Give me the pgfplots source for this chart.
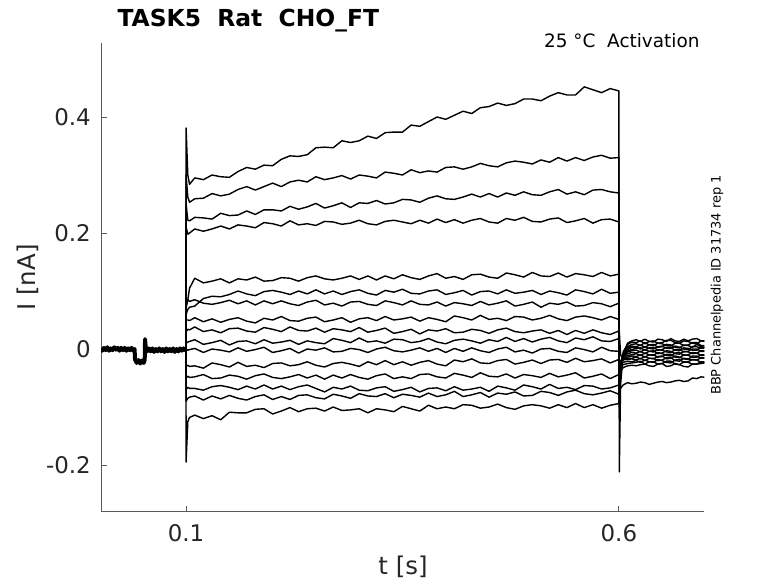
\documentclass[border=0pt]{standalone}
\usepackage{pgfplots}
\usepackage{pgfplotstable}
\pgfplotsset{compat=1.18}
\usepackage{fontspec}
\setmainfont{DejaVu Sans}
\definecolor{axisgray}{HTML}{5A5A5A}
\definecolor{lblgray}{HTML}{262626}

\pgfplotstableread{
t b
0.0015 0.001
0.003 -0.003
0.005 0.002
0.007 -0.002
0.009 0.003
0.011 -0.003
0.013 0.001
0.015 -0.002
0.017 0.003
0.019 -0.001
0.021 0.002
0.023 -0.003
0.025 0.002
0.027 -0.002
0.029 0.002
0.031 -0.003
0.033 0.001
0.035 -0.002
0.037 0.002
0.039 -0.003
0.0405 0.000
0.041 -0.018
0.043 -0.024
0.045 -0.019
0.047 -0.025
0.049 -0.020
0.051 -0.024
0.0522 -0.019
0.0526 0.017
0.0535 0.000
0.055 -0.004
0.057 0.001
0.059 -0.004
0.061 0.001
0.063 -0.005
0.065 0.000
0.067 -0.004
0.069 0.001
0.071 -0.004
0.073 0.000
0.075 -0.005
0.077 0.001
0.079 -0.004
0.081 0.000
0.083 -0.004
0.085 0.001
0.087 -0.005
0.089 0.000
0.091 -0.004
0.093 0.001
0.095 -0.003
0.097 0.001
0.099 -0.002
0.100 0.000
}\base

\pgfplotstableread{
t T1 T2 T3 T4 L1 L2 L3 L4 L5 L6 L7 L8 L9 L10 L11 L12
0.0999 0 0 0 0 0 0 0 0 0 0 0 0 0 0 0 0
0.100 .381 .300 .250 .210 .080 .060 .070 .050 .030 .010 .000 -.030 -.050 -.070 -.090 -.195
0.102 .300 .262 .222 .198 .085 .068 .085 .050 .034 .012 -.002 -.028 -.047 -.066 -.085 -.125
0.104 .284 .253 .221 .200 .105 .072 .082 .049 .033 .013 -.001 -.030 -.049 -.068 -.083 -.118
0.11 .295 .259 .227 .207 .122 .074 .085 .054 .038 .016 .001 -.029 -.048 -.068 -.081 -.114
0.12 .292 .260 .226 .203 .114 .087 .079 .047 .030 .008 -.006 -.033 -.044 -.071 -.088 -.120
0.13 .300 .268 .224 .207 .117 .091 .077 .052 .033 .011 .000 -.024 -.051 -.065 -.081 -.115
0.14 .297 .264 .234 .212 .121 .090 .080 .046 .028 .015 -.002 -.027 -.050 -.063 -.086 -.122
0.15 .296 .267 .230 .207 .114 .094 .084 .051 .035 .007 -.005 -.031 -.045 -.066 -.080 -.109
0.16 .306 .275 .231 .214 .121 .100 .078 .054 .036 .013 .002 -.023 -.047 -.070 -.085 -.110
0.17 .313 .280 .238 .212 .119 .095 .083 .048 .031 .014 -.004 -.030 -.052 -.064 -.088 -.110
0.18 .310 .274 .232 .209 .124 .092 .076 .045 .029 .009 -.001 -.028 -.046 -.069 -.082 -.104
0.19 .317 .280 .240 .218 .117 .099 .083 .053 .037 .016 .003 -.032 -.043 -.062 -.079 -.103
0.20 .316 .286 .240 .216 .118 .101 .078 .050 .034 .010 -.006 -.025 -.049 -.069 -.087 -.112
0.21 .327 .280 .238 .212 .123 .098 .083 .056 .030 .012 -.003 -.024 -.051 -.064 -.082 -.107
0.22 .333 .288 .246 .221 .122 .094 .078 .049 .038 .015 .001 -.029 -.048 -.070 -.087 -.101
0.23 .332 .291 .241 .214 .117 .100 .075 .048 .032 .008 -.007 -.027 -.044 -.065 -.080 -.108
0.24 .335 .288 .245 .216 .123 .095 .081 .053 .031 .014 .000 -.022 -.050 -.062 -.079 -.103
0.25 .347 .297 .251 .213 .126 .102 .084 .055 .036 .011 -.002 -.028 -.045 -.068 -.084 -.102
0.26 .348 .292 .243 .220 .121 .095 .076 .047 .029 .009 .002 -.031 -.052 -.074 -.086 -.107
0.27 .347 .295 .247 .219 .119 .100 .079 .050 .035 .018 -.005 -.025 -.045 -.066 -.078 -.100
0.28 .359 .299 .252 .215 .122 .094 .074 .054 .033 .015 -.004 -.023 -.050 -.069 -.081 -.106
0.29 .356 .293 .244 .217 .126 .099 .081 .046 .030 .011 .001 -.026 -.044 -.064 -.085 -.105
0.30 .359 .300 .252 .222 .120 .102 .082 .052 .037 .019 -.001 -.030 -.049 -.071 -.077 -.103
0.31 .367 .298 .251 .216 .126 .096 .077 .054 .029 .012 -.006 -.022 -.052 -.072 -.081 -.110
0.32 .363 .295 .256 .214 .119 .093 .075 .049 .032 .014 .000 -.027 -.046 -.067 -.082 -.103
0.33 .373 .305 .250 .220 .126 .101 .083 .056 .036 .010 .003 -.020 -.043 -.065 -.077 -.105
0.34 .374 .303 .252 .222 .121 .098 .080 .050 .027 .017 -.003 -.027 -.051 -.073 -.084 -.108
0.35 .374 .300 .258 .219 .128 .103 .076 .052 .030 .016 -.005 -.022 -.048 -.070 -.078 -.099
0.36 .386 .309 .257 .216 .123 .096 .083 .055 .034 .011 -.002 -.028 -.051 -.066 -.080 -.103
0.37 .384 .304 .253 .222 .120 .095 .077 .048 .026 .013 .002 -.023 -.044 -.074 -.083 -.107
0.38 .392 .307 .260 .217 .126 .100 .076 .054 .033 .018 -.004 -.020 -.043 -.068 -.076 -.097
0.39 .400 .305 .264 .224 .130 .102 .081 .051 .031 .012 .001 -.026 -.048 -.067 -.082 -.103
0.40 .396 .313 .259 .218 .122 .094 .074 .047 .035 .009 -.006 -.029 -.050 -.072 -.079 -.100
0.41 .403 .314 .258 .223 .125 .097 .080 .057 .028 .015 .001 -.019 -.042 -.065 -.073 -.103
0.42 .410 .310 .262 .217 .120 .101 .078 .054 .029 .017 -.004 -.022 -.045 -.071 -.082 -.096
0.43 .406 .314 .267 .222 .128 .093 .075 .050 .034 .014 .002 -.017 -.049 -.069 -.079 -.097
0.44 .416 .320 .262 .225 .129 .099 .082 .058 .032 .010 -.003 -.024 -.041 -.066 -.075 -.102
0.45 .418 .316 .268 .219 .124 .100 .076 .051 .027 .016 -.006 -.025 -.047 -.073 -.083 -.100
0.46 .424 .314 .262 .217 .122 .095 .079 .053 .033 .013 .000 -.020 -.048 -.064 -.076 -.095
0.47 .420 .321 .269 .225 .131 .102 .083 .049 .036 .020 .003 -.018 -.043 -.067 -.078 -.101
0.48 .423 .324 .265 .222 .128 .096 .074 .056 .030 .013 -.005 -.026 -.050 -.071 -.074 -.104
0.49 .431 .322 .271 .227 .124 .098 .077 .055 .028 .018 -.002 -.023 -.044 -.062 -.081 -.098
0.50 .431 .319 .266 .220 .132 .101 .081 .050 .031 .012 -.007 -.019 -.046 -.065 -.080 -.096
0.51 .428 .326 .265 .219 .126 .094 .072 .053 .033 .017 .000 -.025 -.049 -.069 -.073 -.098
0.52 .436 .322 .271 .224 .125 .100 .079 .058 .027 .020 .001 -.019 -.042 -.061 -.075 -.102
0.53 .442 .330 .275 .226 .131 .097 .077 .052 .032 .014 -.004 -.018 -.048 -.068 -.080 -.096
0.54 .438 .324 .267 .218 .124 .093 .081 .049 .025 .011 -.006 -.023 -.045 -.066 -.074 -.101
0.55 .438 .330 .271 .221 .130 .102 .074 .055 .032 .019 .002 -.016 -.041 -.070 -.071 -.094
0.56 .452 .325 .266 .225 .128 .099 .075 .057 .027 .016 -.001 -.022 -.050 -.063 -.077 -.101
0.57 .447 .331 .274 .217 .125 .095 .080 .054 .033 .021 -.005 -.020 -.047 -.064 -.079 -.096
0.58 .442 .334 .275 .223 .132 .103 .078 .050 .028 .014 .003 -.017 -.043 -.069 -.076 -.102
0.59 .449 .329 .271 .224 .126 .096 .073 .056 .025 .013 -.003 -.024 -.051 -.067 -.072 -.097
0.60 .445 .330 .269 .219 .129 .098 .079 .051 .031 .018 -.004 -.018 -.044 -.062 -.078 -.094
0.6005 -.212 -.120 -.100 -.085 -.070 -.060 -.050 -.045 -.040 -.035 -.030 .030 -.035 -.045 -.055 -.075
0.602 -.060 -.040 -.035 -.030 -.028 -.025 -.022 -.022 -.022 -.022 -.022 -.010 -.026 -.032 -.038 -.068
0.605 -.010 -.005 -.008 -.008 -.010 -.010 -.012 -.013 -.015 -.017 -.019 -.018 -.023 -.027 -.032 -.062
0.610 .010 .008 .004 .002 -.001 -.003 -.005 -.008 -.011 -.014 -.016 -.018 -.021 -.025 -.029 -.058
0.615 .014 .012 .008 .005 .003 -.001 -.003 -.006 -.010 -.012 -.016 -.017 -.022 -.024 -.028 -.060
0.620 .016 .011 .009 .004 .003 .001 -.002 -.007 -.008 -.013 -.014 -.019 -.020 -.023 -.029 -.059
0.625 .013 .014 .006 .007 .000 .002 -.005 -.004 -.011 -.010 -.017 -.016 -.023 -.021 -.027 -.057
0.630 .017 .009 .011 .003 .004 -.002 -.001 -.008 -.007 -.014 -.013 -.020 -.019 -.026 -.026 -.058
0.635 .013 .013 .007 .007 .001 .002 -.004 -.004 -.010 -.010 -.016 -.016 -.022 -.022 -.029 -.061
0.640 .012 .014 .006 .008 .000 .003 -.005 -.003 -.011 -.010 -.017 -.016 -.023 -.022 -.030 -.059
0.645 .017 .010 .010 .003 .004 -.002 -.001 -.008 -.006 -.014 -.013 -.020 -.018 -.026 -.026 -.057
0.650 .016 .011 .009 .004 .005 -.001 -.002 -.007 -.008 -.013 -.012 -.019 -.020 -.025 -.025 -.056
0.655 .013 .015 .006 .008 .001 .003 -.005 -.003 -.011 -.009 -.017 -.015 -.023 -.021 -.030 -.058
0.660 .018 .015 .005 .007 .001 .002 -.006 -.004 -.012 -.009 -.016 -.015 -.024 -.021 -.029 -.057
0.665 .014 .011 .010 .003 .005 -.002 -.001 -.008 -.007 -.014 -.012 -.020 -.019 -.026 -.025 -.055
0.670 .013 .010 .010 .002 .003 -.003 -.001 -.009 -.006 -.015 -.014 -.021 -.018 -.027 -.027 -.054
0.675 .017 .014 .006 .007 .000 .002 -.005 -.004 -.011 -.010 -.017 -.016 -.023 -.022 -.030 -.056
0.680 .014 .013 .007 .006 -.001 .001 -.004 -.005 -.010 -.011 -.018 -.017 -.022 -.023 -.031 -.055
0.685 .017 .010 .011 .003 .004 -.002 .000 -.008 -.006 -.014 -.012 -.019 -.018 -.026 -.026 -.050
0.690 .018 .009 .011 .008 .004 -.002 .000 -.007 -.007 -.014 -.012 -.019 -.019 -.026 -.026 -.051
0.695 .014 .014 .006 .004 .001 .003 -.004 -.003 -.011 -.010 -.016 -.015 -.023 -.022 -.025 -.048
0.700 .013 .014 .006 .003 .002 .003 -.004 -.003 -.011 -.010 -.016 -.015 -.023 -.022 -.024 -.049
}\steps

\begin{document}
\begin{tikzpicture}
\useasboundingbox (0,0) rectangle (778bp,583bp);
\begin{axis}[
  scale only axis,
  width=603.3bp, height=468.7bp,
  at={(101bp,71.3bp)}, anchor=south west,
  xmin=0.0017, xmax=0.6987,
  ymin=-0.2805, ymax=0.5276,
  axis x line*=bottom, axis y line*=left,
  xtick={0.1,0.6}, xticklabels={0.1,0.6},
  ytick={-0.2,0,0.2,0.4}, yticklabels={-0.2,0,0.2,0.4},
  tick align=inside, major tick length=6bp,
  axis line style={draw=axisgray, line width=0.9bp},
  tick style={draw=axisgray, line width=0.9bp},
  ticklabel style={font=\fontsize{23}{27}\selectfont, text=lblgray},
  yticklabel style={inner sep=0pt, xshift=-10bp},
  xticklabel style={inner sep=0pt, yshift=-13bp},
  clip=true,
]
\addplot[black, line width=4bp, line join=round] table[x=t, y=b] {\base};
\pgfplotsinvokeforeach{T1,T2,T3,T4,L1,L2,L3,L4,L5,L6,L7,L8,L9,L10,L11,L12}{
  \addplot[black, line width=1.4bp, line join=round] table[x=t, y=#1] {\steps};
}
\end{axis}
\node[anchor=base west, font=\fontsize{23.5}{28}\selectfont\bfseries, text=black] at (114bp,556.3bp) {TASK5\ \ Rat\ \ CHO\_FT};
\node[anchor=base east, font=\fontsize{18.5}{22}\selectfont, text=black] at (703bp,535.7bp) {25 °C\ \ Activation};
\node[rotate=90, font=\fontsize{24.5}{29}\selectfont, text=lblgray] at (27.5bp,305.5bp) {I [nA]};
\node[font=\fontsize{24.5}{29}\selectfont, text=lblgray] at (403bp,16bp) {t [s]};
\node[rotate=90, font=\fontsize{13}{16}\selectfont, text=black] at (717bp,298bp) {BBP Channelpedia ID 31734 rep 1};
\end{tikzpicture}
\end{document}
